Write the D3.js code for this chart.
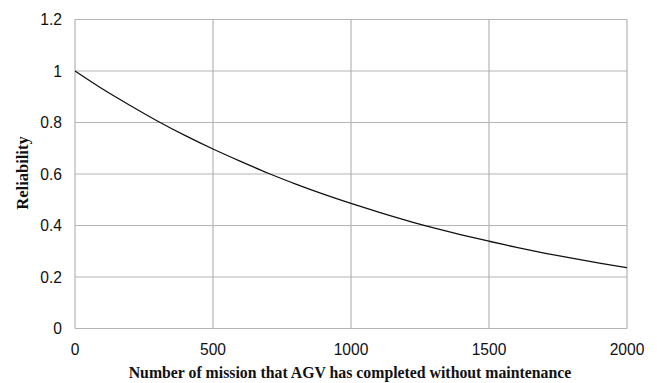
<!DOCTYPE html>
<html><head><meta charset="utf-8">
<script src="https://cdn.jsdelivr.net/npm/d3@7"></script>
<style>body{margin:0;background:#fff}</style>
</head><body>
<svg id="c" width="657" height="383"></svg>
<script>
const missions = [0,100,200,300,400,500,600,700,800,900,1000,1100,1200,1300,1400,1500,1600,1700,1800,1900,2000];
const reliability = [1.0,0.930,0.866,0.805,0.749,0.697,0.649,0.603,0.561,0.522,0.486,0.452,0.420,0.391,0.364,0.339,0.315,0.293,0.273,0.254,0.236];
const xTicks = [0,500,1000,1500,2000];
const yTicks = [0,0.2,0.4,0.6,0.8,1,1.2];
const xTitle = "Number of mission that AGV has completed without maintenance";
const yTitle = "Reliability";

const svg = d3.select("#c");
const L=75, R=627, T=19.5, B=328.5;
const x = d3.scaleLinear().domain([0,2000]).range([L,R]);
const y = d3.scaleLinear().domain([0,1.2]).range([B,T]);
const grid="#b4b4b4";

svg.append("g").selectAll("line").data(yTicks).join("line")
  .attr("x1",L).attr("x2",R).attr("y1",d=>y(d)).attr("y2",d=>y(d))
  .attr("stroke",grid).attr("stroke-width",1.2);
svg.append("g").selectAll("line").data(xTicks).join("line")
  .attr("y1",T).attr("y2",B).attr("x1",d=>x(d)).attr("x2",d=>x(d))
  .attr("stroke",grid).attr("stroke-width",1.2);

const fmt = d=>String(+d.toFixed(1));
svg.append("g").selectAll("text").data(yTicks).join("text")
  .attr("x",62).attr("y",d=>y(d)+5.6).attr("text-anchor","end")
  .attr("font-family","Liberation Sans, Arial, sans-serif").attr("font-size",15.6).attr("fill","#111")
  .text(fmt);
svg.append("g").selectAll("text").data(xTicks).join("text")
  .attr("x",d=>x(d)).attr("y",354.8).attr("text-anchor","middle")
  .attr("font-family","Liberation Sans, Arial, sans-serif").attr("font-size",15.6).attr("fill","#111")
  .text(d=>d);

const line = d3.line().x((d,i)=>x(missions[i])).y(d=>y(d)).curve(d3.curveMonotoneX);
svg.append("path").datum(reliability).attr("d",line)
  .attr("fill","none").attr("stroke","#111").attr("stroke-width",1.3);

svg.append("text").attr("x",350).attr("y",378).attr("text-anchor","middle")
  .attr("font-family","Liberation Serif, Times New Roman, serif").attr("font-weight","bold")
  .attr("font-size",15.8).attr("fill","#111").text(xTitle);
svg.append("text").attr("transform",`translate(27.5,173) rotate(-90)`).attr("text-anchor","middle")
  .attr("font-family","Liberation Serif, Times New Roman, serif").attr("font-weight","bold")
  .attr("font-size",16.5).attr("fill","#111").text(yTitle);
</script>
</body></html>
